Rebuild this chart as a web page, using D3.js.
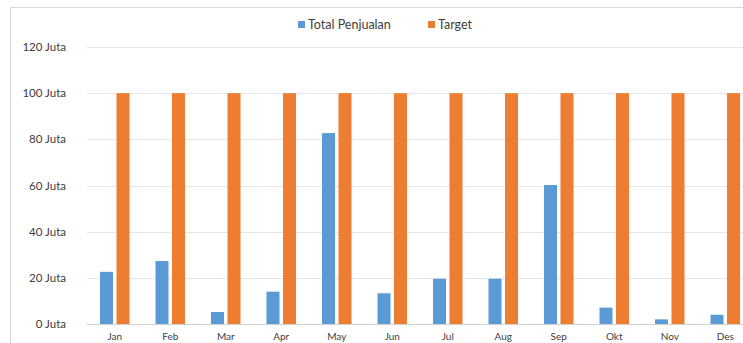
<!DOCTYPE html>
<html>
<head>
<meta charset="utf-8">
<script src="https://cdn.jsdelivr.net/npm/d3@7"></script>
<style>
  body { margin: 0; background: #fff; }
  svg text { font-family: Lato, "Open Sans", sans-serif; }
</style>
</head>
<body>
<svg id="chart" width="743" height="343"></svg>
<script>
// monthly sales vs target, in Juta (millions)
const months = ['Jan', 'Feb', 'Mar', 'Apr', 'May', 'Jun', 'Jul', 'Aug', 'Sep', 'Okt', 'Nov', 'Des'];
const totalPenjualan = [22.6, 27.3, 5.2, 14, 82.7, 13.3, 19.6, 19.6, 60.2, 7.1, 2.0, 4.0];
const target = [100, 100, 100, 100, 100, 100, 100, 100, 100, 100, 100, 100];
const yTicks = [0, 20, 40, 60, 80, 100, 120];
const seriesNames = ['Total Penjualan', 'Target'];
const colors = ['#5b9bd5', '#ed7d31'];

const svg = d3.select('#chart');

// chart frame (cut off on right/bottom like the screenshot)
svg.append('rect')
  .attr('x', 10.5).attr('y', 7.5)
  .attr('width', 800).attr('height', 400)
  .attr('fill', 'none').attr('stroke', '#d9d9d9');

const left = 87, right = 753;
const x = d3.scaleBand().domain(months).range([left, right]);
const y = d3.scaleLinear().domain([0, 120]).range([324, 47]);

// gridlines
svg.append('g').selectAll('line')
  .data(yTicks)
  .join('line')
  .attr('x1', left).attr('x2', 743)
  .attr('y1', d => Math.round(y(d)) + 0.5).attr('y2', d => Math.round(y(d)) + 0.5)
  .attr('stroke', d => d === 0 ? '#d0d0d0' : '#e6e6e6');

// y labels
svg.append('g').selectAll('text')
  .data(yTicks)
  .join('text')
  .attr('x', 66).attr('y', d => y(d))
  .attr('dy', '0.35em')
  .attr('text-anchor', 'end')
  .attr('font-size', 11.5)
  .attr('fill', '#404040')
  .text(d => d + ' Juta');

// x labels
svg.append('g').selectAll('text')
  .data(months)
  .join('text')
  .attr('x', d => x(d) + x.bandwidth() / 2)
  .attr('y', 340)
  .attr('text-anchor', 'middle')
  .attr('font-size', 10)
  .attr('fill', '#404040')
  .text(d => d);

// bars
const barW = 13, gap = 3.5;
const series = [totalPenjualan, target];
series.forEach((vals, s) => {
  svg.append('g').selectAll('rect')
    .data(months)
    .join('rect')
    .attr('x', (d, i) => x(d) + x.bandwidth() / 2 - barW - gap / 2 + s * (barW + gap))
    .attr('y', (d, i) => y(vals[i]))
    .attr('width', barW)
    .attr('height', (d, i) => y(0) - y(vals[i]))
    .attr('fill', colors[s]);
});

// legend
const legendX = [298, 428];
const legend = svg.append('g').selectAll('g')
  .data(seriesNames)
  .join('g')
  .attr('transform', (d, i) => `translate(${legendX[i]},25)`);
legend.append('rect')
  .attr('x', 0).attr('y', -4)
  .attr('width', 7).attr('height', 7)
  .attr('fill', (d, i) => colors[i]);
legend.append('text')
  .attr('x', 10).attr('y', 0)
  .attr('dy', '0.35em')
  .attr('font-size', 12.5)
  .attr('fill', '#404040')
  .text(d => d);
</script>
</body>
</html>
